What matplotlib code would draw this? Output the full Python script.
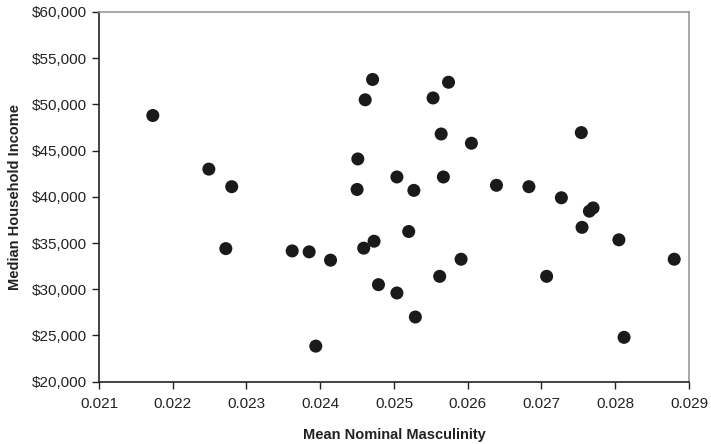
import matplotlib.pyplot as plt
from matplotlib.ticker import FuncFormatter

# mean nominal masculinity vs median household income
masculinity = [0.02173, 0.02249, 0.02280, 0.02272, 0.02362, 0.02385, 0.02414, 0.02394,
               0.02451, 0.02450, 0.02461, 0.02471, 0.02459, 0.02473, 0.02479, 0.02504,
               0.02504, 0.02520, 0.02527, 0.02529, 0.02553, 0.02574, 0.02564, 0.02567,
               0.02562, 0.02591, 0.02605, 0.02639, 0.02683, 0.02707, 0.02727, 0.02754,
               0.02755, 0.02765, 0.02770, 0.02805, 0.02812, 0.02880]
income = [48800, 43000, 41100, 34400, 34150, 34050, 33150, 23850,
          44100, 40800, 50500, 52700, 34450, 35200, 30500, 42150,
          29600, 36250, 40700, 27000, 50700, 52400, 46800, 42150,
          31400, 33250, 45800, 41250, 41100, 31400, 39900, 46950,
          36700, 38450, 38800, 35350, 24800, 33250]

plt.rcParams['font.family'] = ['Liberation Sans', 'DejaVu Sans']

fig = plt.figure(figsize=(7.11, 4.44), dpi=100)
ax = fig.add_axes([0.1392, 0.1403, 0.8298, 0.8327])

ax.scatter(masculinity, income, s=88, color='#1a1a1a', edgecolors='none', zorder=3)

ax.set_xlim(0.021, 0.029)
ax.set_ylim(20000, 60000)
ax.set_xticks([0.021, 0.022, 0.023, 0.024, 0.025, 0.026, 0.027, 0.028, 0.029])
ax.set_yticks(range(20000, 60001, 5000))
ax.yaxis.set_major_formatter(FuncFormatter(lambda v, p: '${:,.0f}'.format(v)))
ax.xaxis.set_major_formatter(FuncFormatter(lambda v, p: '{:.3f}'.format(v)))
ax.tick_params(direction='out', length=5, width=1, labelsize=11, colors='#222222', pad=4)
ax.tick_params(axis='x', pad=6)

ax.spines['left'].set_color('#222222')
ax.spines['bottom'].set_color('#222222')
ax.spines['top'].set_color('#999999')
ax.spines['right'].set_color('#999999')
for s in ax.spines.values():
    s.set_linewidth(1.2)

ax.set_xlabel('Mean Nominal Masculinity', fontsize=10.5, fontweight='bold', color='#222222', labelpad=12)
ax.set_ylabel('Median Household Income', fontsize=10.5, fontweight='bold', color='#222222', labelpad=7)

fig.savefig('out.png', dpi=100)
